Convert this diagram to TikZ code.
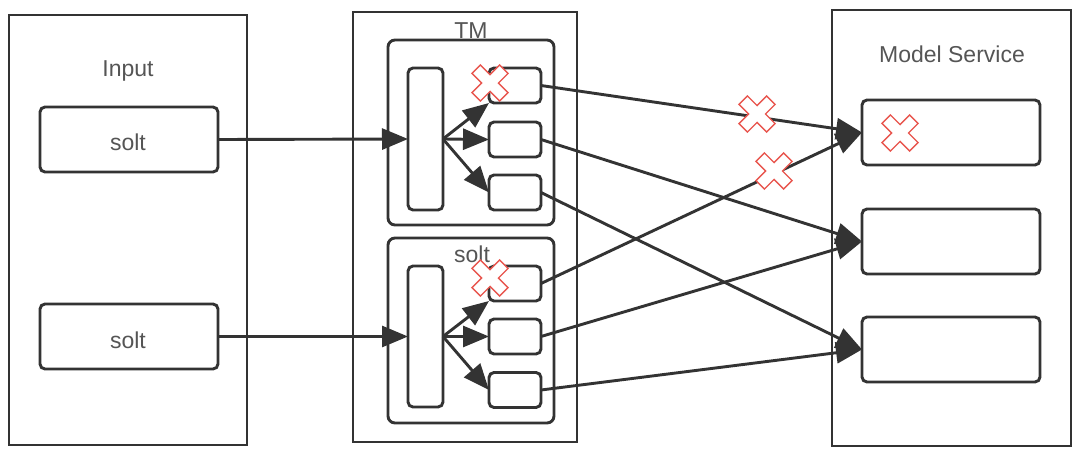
\documentclass[tikz,border=0pt]{standalone}
\usepackage{fontspec}
\setmainfont{Liberation Sans}
\usetikzlibrary{arrows.meta}

\definecolor{ink}{HTML}{333333}
\definecolor{labelgray}{HTML}{555555}
\definecolor{crossred}{HTML}{E8554E}

\tikzset{
  box/.style={draw=ink, line width=2.9pt, inner sep=0pt, outer sep=0pt},
  slot/.style={box, rounded corners=5pt},
  caption/.style={text=labelgray, font=\fontsize{23}{27}\selectfont, inner sep=0pt, anchor=base},
  link/.style={draw=ink, line width=2.9pt, -{Triangle[length=26pt,width=21pt]}},
  failmark/.pic={
    \filldraw[fill=white, draw=crossred, line width=1.4pt, rotate=45]
      (6,19.5) -- (6,6) -- (19.5,6) -- (19.5,-6) -- (6,-6) -- (6,-19.5) -- (-6,-19.5) -- (-6,-6)
      -- (-19.5,-6) -- (-19.5,6) -- (-6,6) -- (-6,19.5) -- cycle;
  }
}

\begin{document}
\begin{tikzpicture}[x=1pt, y=-1pt]
  \useasboundingbox (0,0) rectangle (1080,455);

  % Input side
  \node[box, minimum width=238pt, minimum height=430pt] (input) at (128,230) {};
  \node[caption] (inputlabel) at (128,76) {Input};
  \node[slot, minimum width=178pt, minimum height=65pt] (in1) at (129,139.5) {};
  \node[caption] at (128,150) {solt};
  \node[slot, minimum width=178pt, minimum height=65pt] (in2) at (129,336.5) {};
  \node[caption] at (128,348) {solt};

  % TM
  \node[box, minimum width=224pt, minimum height=430pt] (tm) at (465,227) {};
  \node[caption] (tmlabel) at (471,38) {TM};
  \node[box, rounded corners=7pt, minimum width=166pt, minimum height=185pt] (grp1) at (471,132.5) {};
  \node[box, rounded corners=7pt, minimum width=166pt, minimum height=185pt] (grp2) at (471,330.5) {};
  \node[caption] (grplabel) at (472,262) {solt};
  \node[slot, minimum width=35pt, minimum height=142pt] (bar1) at (425.5,139) {};
  \node[slot, minimum width=35pt, minimum height=141pt] (bar2) at (425.5,336.5) {};
  \foreach \row/\y in {1/85.5, 2/139.5, 3/192.5} {
    \node[slot, minimum width=52pt, minimum height=35pt] (a\row) at (515,\y) {};
  }
  \foreach \row/\y in {1/283.5, 2/336.5, 3/390} {
    \node[slot, minimum width=52pt, minimum height=35pt] (b\row) at (515,\y) {};
  }

  % Model Service
  \node[box, minimum width=239pt, minimum height=436pt] (ms) at (951.5,228) {};
  \node[caption] (mslabel) at (952,62) {Model Service};
  \foreach \row/\y in {1/132.5, 2/241.5, 3/349.5} {
    \node[slot, minimum width=178pt, minimum height=65pt] (m\row) at (951,\y) {};
  }

  % connectors
  \draw[link] (in1.east) -- (bar1.west);
  \draw[link] (in2.east) -- (bar2.west);
  \draw[link] (bar1.east) -- (a1.south west);
  \draw[link] (bar1.east) -- (a2.west);
  \draw[link] (bar1.east) -- (a3.west);
  \draw[link] (bar2.east) -- (b1.south west);
  \draw[link] (bar2.east) -- (b2.west);
  \draw[link] (bar2.east) -- (b3.west);
  \foreach \row in {1,2,3} {
    \draw[link] (a\row.east) -- (m\row.west);
    \draw[link] (b\row.east) -- (m\row.west);
  }

  % failures
  \pic at (490,83) {failmark};
  \pic at (490,278) {failmark};
  \pic at (757,114) {failmark};
  \pic at (774,171) {failmark};
  \pic at (900,133) {failmark};
\end{tikzpicture}
\end{document}
